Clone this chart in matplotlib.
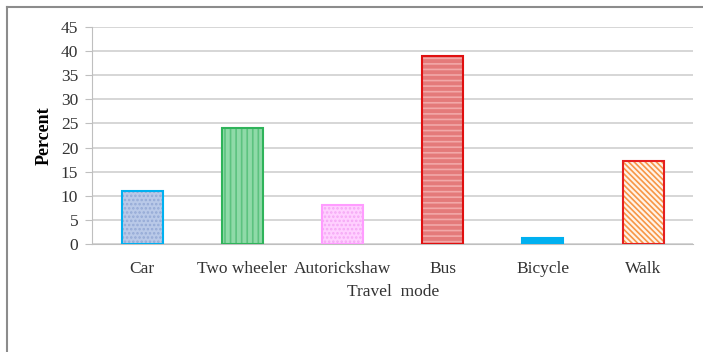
import matplotlib.pyplot as plt
from matplotlib.lines import Line2D

modes = ['Car', 'Two wheeler', 'Autorickshaw', 'Bus', 'Bicycle', 'Walk']
percent = [11, 24, 8, 39, 1.3, 17.2]

fills = ['#b9c9e8', '#8fdaa8', '#ffd0ff', '#e47a7a', '#00b0f0', '#fff3e8']
hatch_cols = ['#95aad6', '#5cc27f', '#f5a8f5', '#f2a8a8', '#00b0f0', '#f79646']
hatches = ['....', '|||', '....', '---', None, '\\\\\\\\\\\\']
edges = ['#00b0f0', '#2fb35a', '#ff9cff', '#e01010', '#00b0f0', '#e52020']

plt.rcParams['font.family'] = 'Liberation Serif'
plt.rcParams['hatch.linewidth'] = 1.2

fig = plt.figure(figsize=(7.03, 3.52), dpi=100)
ax = fig.add_axes([0.131, 0.307, 0.855, 0.616])

x = range(len(modes))
for i in x:
    ax.bar(i, percent[i], width=0.41, color=fills[i], hatch=hatches[i],
           edgecolor=hatch_cols[i], linewidth=0, zorder=3)
    ax.bar(i, percent[i], width=0.41, fill=False, edgecolor=edges[i],
           linewidth=1.5, zorder=4)

ax.set_xlim(-0.5, len(modes) - 0.5)
ax.set_ylim(0, 45)
ax.set_yticks(range(0, 46, 5))
ax.set_xticks(list(x))
ax.set_xticklabels(modes, fontsize=12.5, color='#333333')
ax.tick_params(axis='y', labelsize=12.5, length=5, color='#bfbfbf', pad=5,
               labelcolor='#333333')
ax.tick_params(axis='x', length=0, pad=12)
ax.grid(axis='y', color='#d0d0d0', linewidth=1.2, zorder=0)
for s in ['top', 'right']:
    ax.spines[s].set_visible(False)
ax.spines['left'].set_color('#bfbfbf')
ax.spines['bottom'].set_color('#bfbfbf')
ax.set_ylabel('Percent', fontsize=13, fontweight='bold', labelpad=6)
ax.set_xlabel('Travel  mode', fontsize=12.5, labelpad=5, color='#333333')

# outer frame (top and left edges)
fig.add_artist(Line2D([7 / 703, 1], [1 - 7 / 352, 1 - 7 / 352], color='#8c8c8c', linewidth=1.5))
fig.add_artist(Line2D([7 / 703, 7 / 703], [0, 1 - 7 / 352], color='#8c8c8c', linewidth=1.5))

fig.savefig('out.png', dpi=100)
